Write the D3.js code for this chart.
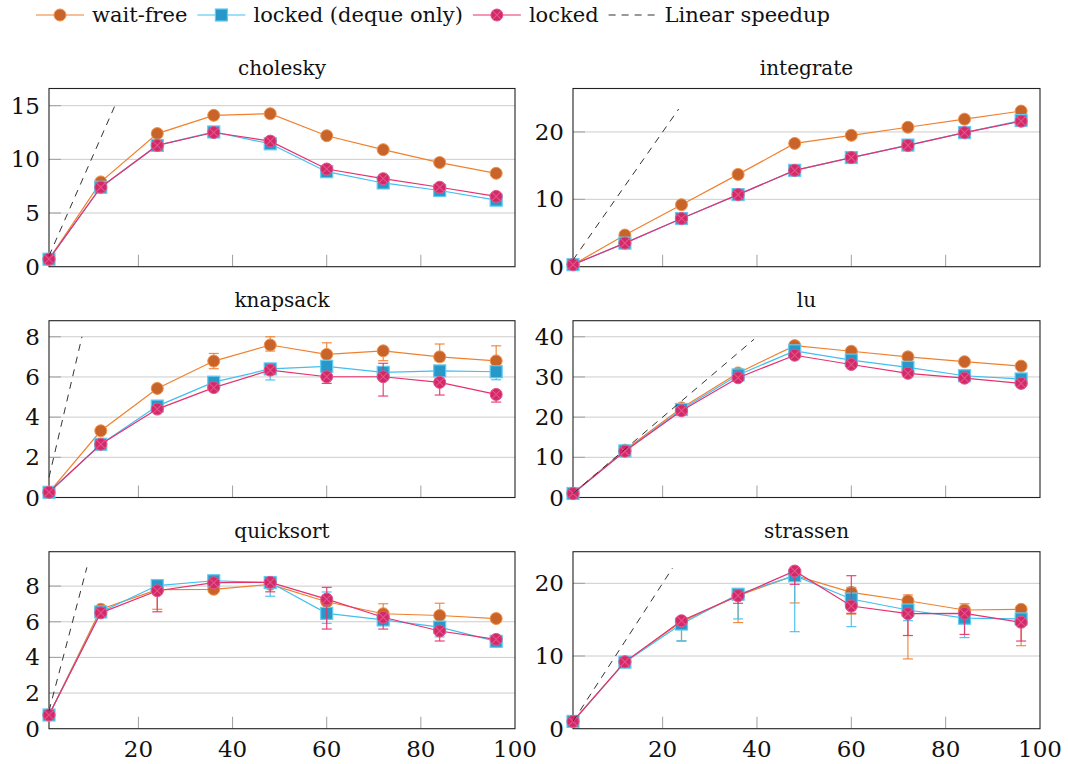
<!DOCTYPE html>
<html><head><meta charset="utf-8">
<script src="https://cdn.jsdelivr.net/npm/d3@7"></script>
<style>
body{margin:0;background:#fff}
svg{display:block}
text{font-family:"DejaVu Serif",serif;fill:#111}
</style>
</head><body><svg id="c" width="1068" height="764"></svg>
<script>
// ---------- data ----------
const xValues = [1, 12, 24, 36, 48, 60, 72, 84, 96];
const xTicks = [20, 40, 60, 80, 100];
const seriesNames = ["wait-free", "locked (deque only)", "locked"];
const linearName = "Linear speedup";
const titles = ["cholesky", "integrate", "knapsack", "lu", "quicksort", "strassen"];
const yMax = [16.6, 26.45, 8.8, 44, 9.93, 24.35];
const yTicks = [[0, 5, 10, 15], [0, 10, 20], [0, 2, 4, 6, 8], [0, 10, 20, 30, 40], [0, 2, 4, 6, 8], [0, 10, 20]];
const linearEnd = [15, 23.4, 8, 39.4, 9.05, 22.1];

// cholesky
const choleskyWaitFree = [0.7, 7.9, 12.4, 14.1, 14.25, 12.2, 10.9, 9.7, 8.7];
const choleskyDeque    = [0.7, 7.4, 11.3, 12.55, 11.45, 8.85, 7.8, 7.1, 6.2];
const choleskyLocked   = [0.7, 7.4, 11.3, 12.5, 11.7, 9.1, 8.2, 7.4, 6.55];
// integrate
const integrateWaitFree = [0.3, 4.7, 9.2, 13.7, 18.3, 19.5, 20.7, 21.9, 23.1];
const integrateDeque    = [0.3, 3.5, 7.15, 10.7, 14.3, 16.2, 18.05, 19.9, 21.7];
const integrateLocked   = [0.3, 3.5, 7.15, 10.7, 14.3, 16.2, 18.0, 19.9, 21.6];
// knapsack
const knapsackWaitFree = [0.26, 3.32, 5.43, 6.79, 7.59, 7.12, 7.3, 7.0, 6.8];
const knapsackWaitFreePlus  = [0, 0, 0, 0.38, 0.41, 0.58, 0, 0.64, 0.75];
const knapsackWaitFreeMinus = [0, 0, 0, 0.38, 0.3, 0.3, 0.49, 0.2, 0.4];
const knapsackDeque = [0.26, 2.65, 4.55, 5.74, 6.4, 6.53, 6.23, 6.3, 6.26];
const knapsackDequePlus  = [0, 0, 0, 0, 0.25, 0, 0, 0, 0];
const knapsackDequeMinus = [0, 0, 0, 0, 0.55, 0, 0, 0, 0.4];
const knapsackLocked = [0.26, 2.65, 4.4, 5.47, 6.34, 6.01, 6.01, 5.73, 5.13];
const knapsackLockedPlus  = [0, 0, 0, 0, 0, 0, 0.67, 0, 0];
const knapsackLockedMinus = [0, 0, 0, 0, 0, 0.33, 0.96, 0.63, 0.38];
// lu
const luWaitFree = [1.0, 11.8, 22.3, 31.0, 37.8, 36.4, 35.0, 33.8, 32.7];
const luDeque    = [1.0, 11.6, 21.9, 30.5, 36.5, 34.2, 32.4, 30.3, 29.5];
const luLocked   = [1.0, 11.5, 21.6, 29.8, 35.4, 33.1, 30.9, 29.7, 28.4];
// quicksort
const quicksortWaitFree = [0.77, 6.7, 7.8, 7.82, 8.1, 7.12, 6.45, 6.35, 6.18];
const quicksortWaitFreePlus  = [0, 0, 0, 0, 0, 0, 0.56, 0.69, 0];
const quicksortWaitFreeMinus = [0, 0, 1.1, 0, 0, 0, 0, 0, 0];
const quicksortDeque = [0.77, 6.55, 8.03, 8.3, 8.2, 6.47, 6.1, 5.7, 4.9];
const quicksortDequePlus  = [0, 0, 0, 0, 0, 1.2, 0, 0, 0];
const quicksortDequeMinus = [0, 0, 0, 0, 0.77, 0.56, 0, 0.55, 0];
const quicksortLocked = [0.77, 6.5, 7.74, 8.19, 8.21, 7.27, 6.25, 5.48, 5.01];
const quicksortLockedPlus  = [0, 0, 0, 0, 0, 0.66, 0, 0, 0];
const quicksortLockedMinus = [0, 0, 1.18, 0, 0.53, 1.68, 0.66, 0.56, 0];
// strassen
const strassenWaitFree = [1.0, 9.2, 14.7, 18.3, 21.1, 18.76, 17.6, 16.33, 16.42];
const strassenWaitFreePlus  = [0, 0, 0, 0, 0, 0, 0.8, 0.86, 0];
const strassenWaitFreeMinus = [0, 0, 2.66, 3.7, 3.8, 3.0, 8.0, 0, 5.0];
const strassenDeque = [1.0, 9.15, 14.4, 18.5, 21.05, 17.84, 16.33, 15.2, 15.1];
const strassenDequePlus  = [0, 0, 0, 0, 0, 1.6, 0, 0, 0];
const strassenDequeMinus = [0, 0, 2.3, 3.4, 7.7, 3.8, 1.47, 2.67, 0];
const strassenLocked = [1.0, 9.2, 14.86, 18.3, 21.69, 16.88, 15.82, 15.87, 14.64];
const strassenLockedPlus  = [0, 0, 0, 0, 0, 4.17, 0, 0, 0];
const strassenLockedMinus = [0, 0, 0, 1.05, 1.83, 1.0, 3.0, 2.9, 2.58];

const zeros = xValues.map(() => 0);
const panels = [
  [[choleskyWaitFree, zeros, zeros], [choleskyDeque, zeros, zeros], [choleskyLocked, zeros, zeros]],
  [[integrateWaitFree, zeros, zeros], [integrateDeque, zeros, zeros], [integrateLocked, zeros, zeros]],
  [[knapsackWaitFree, knapsackWaitFreePlus, knapsackWaitFreeMinus], [knapsackDeque, knapsackDequePlus, knapsackDequeMinus], [knapsackLocked, knapsackLockedPlus, knapsackLockedMinus]],
  [[luWaitFree, zeros, zeros], [luDeque, zeros, zeros], [luLocked, zeros, zeros]],
  [[quicksortWaitFree, quicksortWaitFreePlus, quicksortWaitFreeMinus], [quicksortDeque, quicksortDequePlus, quicksortDequeMinus], [quicksortLocked, quicksortLockedPlus, quicksortLockedMinus]],
  [[strassenWaitFree, strassenWaitFreePlus, strassenWaitFreeMinus], [strassenDeque, strassenDequePlus, strassenDequeMinus], [strassenLocked, strassenLockedPlus, strassenLockedMinus]]
];

// ---------- style ----------
const styles = [
  {line: "#f0802e", fill: "#c8642a", stroke: "#f0924a", marker: "circle"},
  {line: "#40bff0", fill: "#2898c8", stroke: "#62cbf2", marker: "square"},
  {line: "#e8306e", fill: "#d02a68", stroke: "#e8528a", marker: "otimes"}
];
const cols = [[49, 515], [573, 1040]];
const rows = [[88.5, 266.7], [320.7, 497.5], [551.7, 728.7]];

const svg = d3.select("#c");

function drawMarker(g, type, st, cx, cy) {
  if (type === "circle") {
    g.append("circle").attr("cx", cx).attr("cy", cy).attr("r", 6)
      .attr("fill", st.fill).attr("stroke", st.stroke).attr("stroke-width", 1);
  } else if (type === "square") {
    g.append("rect").attr("x", cx - 6).attr("y", cy - 6).attr("width", 12).attr("height", 12)
      .attr("fill", st.fill).attr("stroke", st.stroke).attr("stroke-width", 1.2);
  } else {
    g.append("circle").attr("cx", cx).attr("cy", cy).attr("r", 6)
      .attr("fill", st.fill).attr("stroke", st.stroke).attr("stroke-width", 1);
    const d = 4.2;
    g.append("path").attr("d", `M${cx - d},${cy - d}L${cx + d},${cy + d}M${cx - d},${cy + d}L${cx + d},${cy - d}`)
      .attr("stroke", st.stroke).attr("stroke-width", 1.1).attr("fill", "none");
  }
}

panels.forEach((series, pi) => {
  const col = pi % 2, row = Math.floor(pi / 2);
  const [x0, x1] = cols[col], [y0, y1] = rows[row];
  const x = d3.scaleLinear().domain([1, 100]).range([x0, x1]);
  const y = d3.scaleLinear().domain([0, yMax[pi]]).range([y1, y0]);
  const g = svg.append("g");

  // grid lines
  g.selectAll(".grid").data(yTicks[pi].filter(t => t > 0)).enter().append("line")
    .attr("x1", x0).attr("x2", x1).attr("y1", d => y(d)).attr("y2", d => y(d))
    .attr("stroke", "#cccccc").attr("stroke-width", 1);
  // y tick marks inside
  g.selectAll(".ytm").data(yTicks[pi].filter(t => t > 0)).enter().append("line")
    .attr("x1", x0).attr("x2", x0 + 12).attr("y1", d => y(d)).attr("y2", d => y(d))
    .attr("stroke", "#a0a0a0").attr("stroke-width", 1);
  // x tick marks inside bottom
  g.selectAll(".xtm").data(xTicks.filter(t => t < 100)).enter().append("line")
    .attr("x1", d => x(d)).attr("x2", d => x(d)).attr("y1", y1).attr("y2", y1 - 12)
    .attr("stroke", "#a0a0a0").attr("stroke-width", 1);
  // frame
  g.append("rect").attr("x", x0).attr("y", y0).attr("width", x1 - x0).attr("height", y1 - y0)
    .attr("fill", "none").attr("stroke", "#222").attr("stroke-width", 1.1);

  // y tick labels
  g.selectAll(".ytl").data(yTicks[pi]).enter().append("text")
    .attr("x", x0 - 9).attr("y", d => y(d)).attr("dy", "0.35em")
    .attr("text-anchor", "end").attr("font-size", 23).text(d => d);
  // x tick labels for bottom row
  if (row === 2) {
    g.selectAll(".xtl").data(xTicks).enter().append("text")
      .attr("x", d => x(d)).attr("y", 757).attr("text-anchor", "middle")
      .attr("font-size", 23).text(d => d);
  }
  // title
  g.append("text").attr("x", (x0 + x1) / 2).attr("y", y0 - 14)
    .attr("text-anchor", "middle").attr("font-size", 20).text(titles[pi]);

  // series
  series.forEach((s, si) => {
    const [vals, plus, minus] = s;
    const st = styles[si];
    const sg = g.append("g");
    const line = d3.line().x((d, i) => x(xValues[i])).y(d => y(d));
    sg.append("path").datum(vals).attr("d", line).attr("fill", "none")
      .attr("stroke", st.line).attr("stroke-width", 1.2);
    // error bars
    vals.forEach((v, i) => {
      const cx = x(xValues[i]);
      if (plus[i] > 0 || minus[i] > 0) {
        const top = y(v + plus[i]), bot = y(v - minus[i]);
        sg.append("line").attr("x1", cx).attr("x2", cx).attr("y1", top).attr("y2", bot)
          .attr("stroke", st.line).attr("stroke-width", 1.2).attr("opacity", 0.9);
        if (plus[i] > 0) sg.append("line").attr("x1", cx - 5).attr("x2", cx + 5).attr("y1", top).attr("y2", top)
          .attr("stroke", st.line).attr("stroke-width", 1.2).attr("opacity", 0.9);
        if (minus[i] > 0) sg.append("line").attr("x1", cx - 5).attr("x2", cx + 5).attr("y1", bot).attr("y2", bot)
          .attr("stroke", st.line).attr("stroke-width", 1.2).attr("opacity", 0.9);
      }
    });
    vals.forEach((v, i) => drawMarker(sg, st.marker, st, x(xValues[i]), y(v)));
  });

  // linear speedup
  g.append("line").attr("x1", x(1)).attr("y1", y(1)).attr("x2", x(linearEnd[pi])).attr("y2", y(linearEnd[pi]))
    .attr("stroke", "#333").attr("stroke-width", 1).attr("stroke-dasharray", "7,6");
});

// ---------- legend ----------
const lg = svg.append("g");
let lx = 36;
const ly = 15;
seriesNames.concat([linearName]).forEach((name, i) => {
  if (i < 3) {
    const st = styles[i];
    lg.append("line").attr("x1", lx).attr("x2", lx + 48).attr("y1", ly).attr("y2", ly)
      .attr("stroke", st.line).attr("stroke-width", 1.2);
    drawMarker(lg, st.marker, st, lx + 24, ly);
  } else {
    lg.append("line").attr("x1", lx).attr("x2", lx + 48).attr("y1", ly).attr("y2", ly)
      .attr("stroke", "#333").attr("stroke-width", 1).attr("stroke-dasharray", "7,6");
  }
  const t = lg.append("text").attr("x", lx + 56).attr("y", 22).attr("font-size", 21).text(name);
  lx = lx + 56 + t.node().getComputedTextLength() + 10;
});
</script>
</body></html>
